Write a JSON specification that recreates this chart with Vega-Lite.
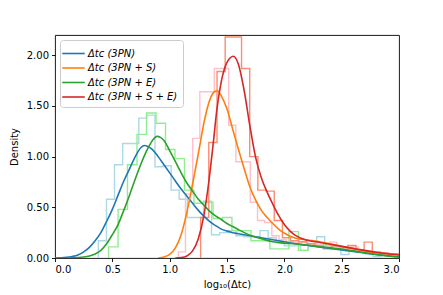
{
  "$schema": "https://vega.github.io/schema/vega-lite/v6.json",
  "width": 344,
  "height": 223,
  "autosize": {"type": "none"},
  "padding": {"left": 55, "top": 35, "right": 44, "bottom": 37},
  "background": "white",
  "config": {
    "font": "DejaVu Sans",
    "view": {"stroke": "black", "strokeWidth": 0.9},
    "axis": {
      "domain": false,
      "grid": false,
      "ticks": true,
      "tickColor": "black",
      "tickSize": 3.5,
      "tickWidth": 0.9,
      "labelColor": "black",
      "labelFontSize": 10,
      "labelPadding": 3,
      "titleColor": "black",
      "titleFontSize": 10,
      "titleFontWeight": "normal"
    },
    "legend": {
      "orient": "none",
      "legendX": 5,
      "legendY": 5,
      "fillColor": "rgba(255,255,255,0.85)",
      "strokeColor": "#cccccc",
      "cornerRadius": 3,
      "padding": 5,
      "symbolType": "M-1.5,0H1.5",
      "symbolSize": 225,
      "symbolStrokeWidth": 1.6,
      "labelFontSize": 10,
      "labelFontStyle": "italic",
      "labelColor": "black",
      "labelOffset": 6,
      "rowPadding": 0.5,
      "title": null
    }
  },
  "datasets": {
    "hist": [
      {"s":"Δtc (3PN)","i":0,"x":0.378,"y":0},
      {"s":"Δtc (3PN)","i":1,"x":0.378,"y":0.17},
      {"s":"Δtc (3PN)","i":2,"x":0.449,"y":0.58},
      {"s":"Δtc (3PN)","i":3,"x":0.519,"y":0.92},
      {"s":"Δtc (3PN)","i":4,"x":0.590,"y":1.13},
      {"s":"Δtc (3PN)","i":5,"x":0.660,"y":1.13},
      {"s":"Δtc (3PN)","i":6,"x":0.731,"y":1.38},
      {"s":"Δtc (3PN)","i":7,"x":0.801,"y":1.41},
      {"s":"Δtc (3PN)","i":8,"x":0.872,"y":0.90},
      {"s":"Δtc (3PN)","i":9,"x":0.942,"y":0.91},
      {"s":"Δtc (3PN)","i":10,"x":1.013,"y":0.67},
      {"s":"Δtc (3PN)","i":11,"x":1.083,"y":0.58},
      {"s":"Δtc (3PN)","i":12,"x":1.154,"y":0.40},
      {"s":"Δtc (3PN)","i":13,"x":1.224,"y":0.40},
      {"s":"Δtc (3PN)","i":14,"x":1.295,"y":0.56},
      {"s":"Δtc (3PN)","i":15,"x":1.365,"y":0.23},
      {"s":"Δtc (3PN)","i":16,"x":1.436,"y":0.25},
      {"s":"Δtc (3PN)","i":17,"x":1.506,"y":0.27},
      {"s":"Δtc (3PN)","i":18,"x":1.577,"y":0.22},
      {"s":"Δtc (3PN)","i":19,"x":1.647,"y":0.21},
      {"s":"Δtc (3PN)","i":20,"x":1.718,"y":0.21},
      {"s":"Δtc (3PN)","i":21,"x":1.788,"y":0.27},
      {"s":"Δtc (3PN)","i":22,"x":1.859,"y":0.20},
      {"s":"Δtc (3PN)","i":23,"x":1.929,"y":0.15},
      {"s":"Δtc (3PN)","i":24,"x":2.000,"y":0.12},
      {"s":"Δtc (3PN)","i":25,"x":2.070,"y":0.12},
      {"s":"Δtc (3PN)","i":26,"x":2.141,"y":0.075},
      {"s":"Δtc (3PN)","i":27,"x":2.211,"y":0.12},
      {"s":"Δtc (3PN)","i":28,"x":2.282,"y":0.21},
      {"s":"Δtc (3PN)","i":29,"x":2.352,"y":0.12},
      {"s":"Δtc (3PN)","i":30,"x":2.423,"y":0.09},
      {"s":"Δtc (3PN)","i":31,"x":2.493,"y":0.035},
      {"s":"Δtc (3PN)","i":32,"x":2.564,"y":0.07},
      {"s":"Δtc (3PN)","i":33,"x":2.634,"y":0.06},
      {"s":"Δtc (3PN)","i":34,"x":2.705,"y":0.04},
      {"s":"Δtc (3PN)","i":35,"x":2.775,"y":0.015},
      {"s":"Δtc (3PN)","i":36,"x":2.846,"y":0.03},
      {"s":"Δtc (3PN)","i":37,"x":2.916,"y":0.02},
      {"s":"Δtc (3PN)","i":38,"x":2.987,"y":0.02},
      {"s":"Δtc (3PN)","i":39,"x":3.057,"y":0},

      {"s":"Δtc (3PN + E)","i":0,"x":0.467,"y":0},
      {"s":"Δtc (3PN + E)","i":1,"x":0.467,"y":0.11},
      {"s":"Δtc (3PN + E)","i":2,"x":0.550,"y":0.48},
      {"s":"Δtc (3PN + E)","i":3,"x":0.632,"y":0.92},
      {"s":"Δtc (3PN + E)","i":4,"x":0.715,"y":1.22},
      {"s":"Δtc (3PN + E)","i":5,"x":0.798,"y":1.43},
      {"s":"Δtc (3PN + E)","i":6,"x":0.881,"y":1.33},
      {"s":"Δtc (3PN + E)","i":7,"x":0.964,"y":1.07},
      {"s":"Δtc (3PN + E)","i":8,"x":1.046,"y":0.98},
      {"s":"Δtc (3PN + E)","i":9,"x":1.129,"y":0.67},
      {"s":"Δtc (3PN + E)","i":10,"x":1.212,"y":0.54},
      {"s":"Δtc (3PN + E)","i":11,"x":1.295,"y":0.55},
      {"s":"Δtc (3PN + E)","i":12,"x":1.378,"y":0.39},
      {"s":"Δtc (3PN + E)","i":13,"x":1.460,"y":0.40},
      {"s":"Δtc (3PN + E)","i":14,"x":1.543,"y":0.27},
      {"s":"Δtc (3PN + E)","i":15,"x":1.626,"y":0.27},
      {"s":"Δtc (3PN + E)","i":16,"x":1.709,"y":0.17},
      {"s":"Δtc (3PN + E)","i":17,"x":1.792,"y":0.17},
      {"s":"Δtc (3PN + E)","i":18,"x":1.874,"y":0.09},
      {"s":"Δtc (3PN + E)","i":19,"x":1.957,"y":0.09},
      {"s":"Δtc (3PN + E)","i":20,"x":2.040,"y":0.26},
      {"s":"Δtc (3PN + E)","i":21,"x":2.123,"y":0.075},
      {"s":"Δtc (3PN + E)","i":22,"x":2.206,"y":0.13},
      {"s":"Δtc (3PN + E)","i":23,"x":2.288,"y":0.13},
      {"s":"Δtc (3PN + E)","i":24,"x":2.371,"y":0.11},
      {"s":"Δtc (3PN + E)","i":25,"x":2.454,"y":0.10},
      {"s":"Δtc (3PN + E)","i":26,"x":2.537,"y":0.07},
      {"s":"Δtc (3PN + E)","i":27,"x":2.620,"y":0.06},
      {"s":"Δtc (3PN + E)","i":28,"x":2.702,"y":0.05},
      {"s":"Δtc (3PN + E)","i":29,"x":2.785,"y":0.04},
      {"s":"Δtc (3PN + E)","i":30,"x":2.868,"y":0.03},
      {"s":"Δtc (3PN + E)","i":31,"x":2.951,"y":0.02},
      {"s":"Δtc (3PN + E)","i":32,"x":3.034,"y":0},

      {"s":"Δtc (3PN + S)","i":0,"x":1.075,"y":0},
      {"s":"Δtc (3PN + S)","i":1,"x":1.075,"y":0.06},
      {"s":"Δtc (3PN + S)","i":2,"x":1.138,"y":0.63},
      {"s":"Δtc (3PN + S)","i":3,"x":1.201,"y":1.18},
      {"s":"Δtc (3PN + S)","i":4,"x":1.263,"y":1.64},
      {"s":"Δtc (3PN + S)","i":5,"x":1.326,"y":1.64},
      {"s":"Δtc (3PN + S)","i":6,"x":1.389,"y":1.87},
      {"s":"Δtc (3PN + S)","i":7,"x":1.452,"y":1.87},
      {"s":"Δtc (3PN + S)","i":8,"x":1.515,"y":1.31},
      {"s":"Δtc (3PN + S)","i":9,"x":1.577,"y":0.95},
      {"s":"Δtc (3PN + S)","i":10,"x":1.640,"y":0.95},
      {"s":"Δtc (3PN + S)","i":11,"x":1.703,"y":0.55},
      {"s":"Δtc (3PN + S)","i":12,"x":1.766,"y":0.37},
      {"s":"Δtc (3PN + S)","i":13,"x":1.829,"y":0.35},
      {"s":"Δtc (3PN + S)","i":14,"x":1.891,"y":0.22},
      {"s":"Δtc (3PN + S)","i":15,"x":1.954,"y":0.18},
      {"s":"Δtc (3PN + S)","i":16,"x":2.017,"y":0.16},
      {"s":"Δtc (3PN + S)","i":17,"x":2.080,"y":0.15},
      {"s":"Δtc (3PN + S)","i":18,"x":2.143,"y":0.15},
      {"s":"Δtc (3PN + S)","i":19,"x":2.205,"y":0.14},
      {"s":"Δtc (3PN + S)","i":20,"x":2.268,"y":0.13},
      {"s":"Δtc (3PN + S)","i":21,"x":2.331,"y":0.12},
      {"s":"Δtc (3PN + S)","i":22,"x":2.394,"y":0.157},
      {"s":"Δtc (3PN + S)","i":23,"x":2.457,"y":0.10},
      {"s":"Δtc (3PN + S)","i":24,"x":2.519,"y":0.09},
      {"s":"Δtc (3PN + S)","i":25,"x":2.582,"y":0.11},
      {"s":"Δtc (3PN + S)","i":26,"x":2.645,"y":0.07},
      {"s":"Δtc (3PN + S)","i":27,"x":2.708,"y":0.06},
      {"s":"Δtc (3PN + S)","i":28,"x":2.771,"y":0.05},
      {"s":"Δtc (3PN + S)","i":29,"x":2.833,"y":0.04},
      {"s":"Δtc (3PN + S)","i":30,"x":2.896,"y":0.03},
      {"s":"Δtc (3PN + S)","i":31,"x":2.959,"y":0.03},
      {"s":"Δtc (3PN + S)","i":32,"x":3.022,"y":0},

      {"s":"Δtc (3PN + S + E)","i":0,"x":1.270,"y":0},
      {"s":"Δtc (3PN + S + E)","i":1,"x":1.270,"y":0.40},
      {"s":"Δtc (3PN + S + E)","i":2,"x":1.341,"y":1.14},
      {"s":"Δtc (3PN + S + E)","i":3,"x":1.413,"y":1.84},
      {"s":"Δtc (3PN + S + E)","i":4,"x":1.484,"y":2.18},
      {"s":"Δtc (3PN + S + E)","i":5,"x":1.555,"y":2.18},
      {"s":"Δtc (3PN + S + E)","i":6,"x":1.627,"y":1.87},
      {"s":"Δtc (3PN + S + E)","i":7,"x":1.698,"y":1.0},
      {"s":"Δtc (3PN + S + E)","i":8,"x":1.769,"y":0.67},
      {"s":"Δtc (3PN + S + E)","i":9,"x":1.840,"y":0.66},
      {"s":"Δtc (3PN + S + E)","i":10,"x":1.912,"y":0.37},
      {"s":"Δtc (3PN + S + E)","i":11,"x":1.983,"y":0.20},
      {"s":"Δtc (3PN + S + E)","i":12,"x":2.054,"y":0.17},
      {"s":"Δtc (3PN + S + E)","i":13,"x":2.126,"y":0.16},
      {"s":"Δtc (3PN + S + E)","i":14,"x":2.197,"y":0.14},
      {"s":"Δtc (3PN + S + E)","i":15,"x":2.268,"y":0.12},
      {"s":"Δtc (3PN + S + E)","i":16,"x":2.340,"y":0.09},
      {"s":"Δtc (3PN + S + E)","i":17,"x":2.411,"y":0.12},
      {"s":"Δtc (3PN + S + E)","i":18,"x":2.482,"y":0.11},
      {"s":"Δtc (3PN + S + E)","i":19,"x":2.553,"y":0.124},
      {"s":"Δtc (3PN + S + E)","i":20,"x":2.625,"y":0.08},
      {"s":"Δtc (3PN + S + E)","i":21,"x":2.696,"y":0.157},
      {"s":"Δtc (3PN + S + E)","i":22,"x":2.767,"y":0.06},
      {"s":"Δtc (3PN + S + E)","i":23,"x":2.839,"y":0.05},
      {"s":"Δtc (3PN + S + E)","i":24,"x":2.910,"y":0.04},
      {"s":"Δtc (3PN + S + E)","i":25,"x":2.981,"y":0.04},
      {"s":"Δtc (3PN + S + E)","i":26,"x":3.052,"y":0}
    ],
    "kde": [
      {"s":"Δtc (3PN)","x":0.0,"y":0.0},
      {"s":"Δtc (3PN)","x":0.05,"y":0.002},
      {"s":"Δtc (3PN)","x":0.10,"y":0.006},
      {"s":"Δtc (3PN)","x":0.15,"y":0.015},
      {"s":"Δtc (3PN)","x":0.20,"y":0.03},
      {"s":"Δtc (3PN)","x":0.25,"y":0.06},
      {"s":"Δtc (3PN)","x":0.30,"y":0.105},
      {"s":"Δtc (3PN)","x":0.35,"y":0.17},
      {"s":"Δtc (3PN)","x":0.40,"y":0.25},
      {"s":"Δtc (3PN)","x":0.45,"y":0.36},
      {"s":"Δtc (3PN)","x":0.50,"y":0.48},
      {"s":"Δtc (3PN)","x":0.55,"y":0.62},
      {"s":"Δtc (3PN)","x":0.60,"y":0.76},
      {"s":"Δtc (3PN)","x":0.65,"y":0.88},
      {"s":"Δtc (3PN)","x":0.70,"y":1.00},
      {"s":"Δtc (3PN)","x":0.75,"y":1.09},
      {"s":"Δtc (3PN)","x":0.78,"y":1.11},
      {"s":"Δtc (3PN)","x":0.81,"y":1.10},
      {"s":"Δtc (3PN)","x":0.85,"y":1.07},
      {"s":"Δtc (3PN)","x":0.90,"y":1.00},
      {"s":"Δtc (3PN)","x":0.95,"y":0.92},
      {"s":"Δtc (3PN)","x":1.00,"y":0.84},
      {"s":"Δtc (3PN)","x":1.05,"y":0.76},
      {"s":"Δtc (3PN)","x":1.10,"y":0.68},
      {"s":"Δtc (3PN)","x":1.15,"y":0.61},
      {"s":"Δtc (3PN)","x":1.20,"y":0.54},
      {"s":"Δtc (3PN)","x":1.25,"y":0.47},
      {"s":"Δtc (3PN)","x":1.30,"y":0.41},
      {"s":"Δtc (3PN)","x":1.35,"y":0.36},
      {"s":"Δtc (3PN)","x":1.40,"y":0.32},
      {"s":"Δtc (3PN)","x":1.45,"y":0.285},
      {"s":"Δtc (3PN)","x":1.50,"y":0.265},
      {"s":"Δtc (3PN)","x":1.55,"y":0.25},
      {"s":"Δtc (3PN)","x":1.60,"y":0.24},
      {"s":"Δtc (3PN)","x":1.70,"y":0.22},
      {"s":"Δtc (3PN)","x":1.80,"y":0.20},
      {"s":"Δtc (3PN)","x":1.90,"y":0.18},
      {"s":"Δtc (3PN)","x":2.00,"y":0.16},
      {"s":"Δtc (3PN)","x":2.10,"y":0.14},
      {"s":"Δtc (3PN)","x":2.20,"y":0.125},
      {"s":"Δtc (3PN)","x":2.30,"y":0.11},
      {"s":"Δtc (3PN)","x":2.40,"y":0.095},
      {"s":"Δtc (3PN)","x":2.50,"y":0.08},
      {"s":"Δtc (3PN)","x":2.60,"y":0.065},
      {"s":"Δtc (3PN)","x":2.70,"y":0.05},
      {"s":"Δtc (3PN)","x":2.80,"y":0.035},
      {"s":"Δtc (3PN)","x":2.90,"y":0.022},
      {"s":"Δtc (3PN)","x":3.00,"y":0.012},

      {"s":"Δtc (3PN + S)","x":0.90,"y":0.0},
      {"s":"Δtc (3PN + S)","x":0.95,"y":0.01},
      {"s":"Δtc (3PN + S)","x":1.00,"y":0.035},
      {"s":"Δtc (3PN + S)","x":1.05,"y":0.10},
      {"s":"Δtc (3PN + S)","x":1.10,"y":0.23},
      {"s":"Δtc (3PN + S)","x":1.15,"y":0.45},
      {"s":"Δtc (3PN + S)","x":1.20,"y":0.73},
      {"s":"Δtc (3PN + S)","x":1.25,"y":1.03},
      {"s":"Δtc (3PN + S)","x":1.30,"y":1.34},
      {"s":"Δtc (3PN + S)","x":1.35,"y":1.56},
      {"s":"Δtc (3PN + S)","x":1.39,"y":1.64},
      {"s":"Δtc (3PN + S)","x":1.415,"y":1.65},
      {"s":"Δtc (3PN + S)","x":1.45,"y":1.60},
      {"s":"Δtc (3PN + S)","x":1.50,"y":1.47},
      {"s":"Δtc (3PN + S)","x":1.55,"y":1.27},
      {"s":"Δtc (3PN + S)","x":1.60,"y":1.07},
      {"s":"Δtc (3PN + S)","x":1.65,"y":0.88},
      {"s":"Δtc (3PN + S)","x":1.70,"y":0.70},
      {"s":"Δtc (3PN + S)","x":1.75,"y":0.57},
      {"s":"Δtc (3PN + S)","x":1.80,"y":0.47},
      {"s":"Δtc (3PN + S)","x":1.85,"y":0.40},
      {"s":"Δtc (3PN + S)","x":1.90,"y":0.34},
      {"s":"Δtc (3PN + S)","x":1.95,"y":0.285},
      {"s":"Δtc (3PN + S)","x":2.00,"y":0.245},
      {"s":"Δtc (3PN + S)","x":2.05,"y":0.215},
      {"s":"Δtc (3PN + S)","x":2.10,"y":0.195},
      {"s":"Δtc (3PN + S)","x":2.20,"y":0.178},
      {"s":"Δtc (3PN + S)","x":2.30,"y":0.162},
      {"s":"Δtc (3PN + S)","x":2.40,"y":0.14},
      {"s":"Δtc (3PN + S)","x":2.50,"y":0.115},
      {"s":"Δtc (3PN + S)","x":2.60,"y":0.09},
      {"s":"Δtc (3PN + S)","x":2.70,"y":0.068},
      {"s":"Δtc (3PN + S)","x":2.80,"y":0.052},
      {"s":"Δtc (3PN + S)","x":2.90,"y":0.042},
      {"s":"Δtc (3PN + S)","x":3.00,"y":0.035},

      {"s":"Δtc (3PN + E)","x":0.10,"y":0.0},
      {"s":"Δtc (3PN + E)","x":0.15,"y":0.002},
      {"s":"Δtc (3PN + E)","x":0.20,"y":0.005},
      {"s":"Δtc (3PN + E)","x":0.25,"y":0.01},
      {"s":"Δtc (3PN + E)","x":0.30,"y":0.02},
      {"s":"Δtc (3PN + E)","x":0.35,"y":0.04},
      {"s":"Δtc (3PN + E)","x":0.40,"y":0.075},
      {"s":"Δtc (3PN + E)","x":0.45,"y":0.14},
      {"s":"Δtc (3PN + E)","x":0.50,"y":0.23},
      {"s":"Δtc (3PN + E)","x":0.55,"y":0.33},
      {"s":"Δtc (3PN + E)","x":0.60,"y":0.47},
      {"s":"Δtc (3PN + E)","x":0.65,"y":0.62},
      {"s":"Δtc (3PN + E)","x":0.70,"y":0.78},
      {"s":"Δtc (3PN + E)","x":0.75,"y":0.93},
      {"s":"Δtc (3PN + E)","x":0.80,"y":1.06},
      {"s":"Δtc (3PN + E)","x":0.85,"y":1.16},
      {"s":"Δtc (3PN + E)","x":0.89,"y":1.20},
      {"s":"Δtc (3PN + E)","x":0.92,"y":1.19},
      {"s":"Δtc (3PN + E)","x":0.95,"y":1.16},
      {"s":"Δtc (3PN + E)","x":1.00,"y":1.06},
      {"s":"Δtc (3PN + E)","x":1.05,"y":0.95},
      {"s":"Δtc (3PN + E)","x":1.10,"y":0.84},
      {"s":"Δtc (3PN + E)","x":1.15,"y":0.74},
      {"s":"Δtc (3PN + E)","x":1.20,"y":0.66},
      {"s":"Δtc (3PN + E)","x":1.25,"y":0.58},
      {"s":"Δtc (3PN + E)","x":1.30,"y":0.52},
      {"s":"Δtc (3PN + E)","x":1.35,"y":0.46},
      {"s":"Δtc (3PN + E)","x":1.40,"y":0.415},
      {"s":"Δtc (3PN + E)","x":1.45,"y":0.38},
      {"s":"Δtc (3PN + E)","x":1.50,"y":0.34},
      {"s":"Δtc (3PN + E)","x":1.55,"y":0.31},
      {"s":"Δtc (3PN + E)","x":1.60,"y":0.28},
      {"s":"Δtc (3PN + E)","x":1.70,"y":0.225},
      {"s":"Δtc (3PN + E)","x":1.80,"y":0.19},
      {"s":"Δtc (3PN + E)","x":1.90,"y":0.16},
      {"s":"Δtc (3PN + E)","x":2.00,"y":0.147},
      {"s":"Δtc (3PN + E)","x":2.10,"y":0.138},
      {"s":"Δtc (3PN + E)","x":2.20,"y":0.125},
      {"s":"Δtc (3PN + E)","x":2.30,"y":0.112},
      {"s":"Δtc (3PN + E)","x":2.40,"y":0.10},
      {"s":"Δtc (3PN + E)","x":2.50,"y":0.088},
      {"s":"Δtc (3PN + E)","x":2.60,"y":0.07},
      {"s":"Δtc (3PN + E)","x":2.70,"y":0.052},
      {"s":"Δtc (3PN + E)","x":2.80,"y":0.035},
      {"s":"Δtc (3PN + E)","x":2.90,"y":0.02},
      {"s":"Δtc (3PN + E)","x":3.00,"y":0.01},

      {"s":"Δtc (3PN + S + E)","x":1.05,"y":0.0},
      {"s":"Δtc (3PN + S + E)","x":1.10,"y":0.004},
      {"s":"Δtc (3PN + S + E)","x":1.15,"y":0.02},
      {"s":"Δtc (3PN + S + E)","x":1.20,"y":0.07},
      {"s":"Δtc (3PN + S + E)","x":1.25,"y":0.19},
      {"s":"Δtc (3PN + S + E)","x":1.30,"y":0.43},
      {"s":"Δtc (3PN + S + E)","x":1.34,"y":0.74},
      {"s":"Δtc (3PN + S + E)","x":1.38,"y":1.13},
      {"s":"Δtc (3PN + S + E)","x":1.41,"y":1.45},
      {"s":"Δtc (3PN + S + E)","x":1.45,"y":1.74},
      {"s":"Δtc (3PN + S + E)","x":1.50,"y":1.93},
      {"s":"Δtc (3PN + S + E)","x":1.555,"y":1.99},
      {"s":"Δtc (3PN + S + E)","x":1.60,"y":1.91},
      {"s":"Δtc (3PN + S + E)","x":1.65,"y":1.65},
      {"s":"Δtc (3PN + S + E)","x":1.70,"y":1.30},
      {"s":"Δtc (3PN + S + E)","x":1.75,"y":0.99},
      {"s":"Δtc (3PN + S + E)","x":1.80,"y":0.79},
      {"s":"Δtc (3PN + S + E)","x":1.85,"y":0.65},
      {"s":"Δtc (3PN + S + E)","x":1.90,"y":0.53},
      {"s":"Δtc (3PN + S + E)","x":1.95,"y":0.42},
      {"s":"Δtc (3PN + S + E)","x":2.00,"y":0.33},
      {"s":"Δtc (3PN + S + E)","x":2.05,"y":0.265},
      {"s":"Δtc (3PN + S + E)","x":2.10,"y":0.22},
      {"s":"Δtc (3PN + S + E)","x":2.20,"y":0.175},
      {"s":"Δtc (3PN + S + E)","x":2.30,"y":0.155},
      {"s":"Δtc (3PN + S + E)","x":2.40,"y":0.135},
      {"s":"Δtc (3PN + S + E)","x":2.50,"y":0.115},
      {"s":"Δtc (3PN + S + E)","x":2.60,"y":0.095},
      {"s":"Δtc (3PN + S + E)","x":2.70,"y":0.075},
      {"s":"Δtc (3PN + S + E)","x":2.80,"y":0.057},
      {"s":"Δtc (3PN + S + E)","x":2.90,"y":0.042},
      {"s":"Δtc (3PN + S + E)","x":3.00,"y":0.03}
    ]
  },
  "layer": [
    {
      "data": {"name": "hist"},
      "mark": {"type": "line", "interpolate": "step-after", "strokeWidth": 1.4, "clip": true},
      "encoding": {
        "x": {"field": "x", "type": "quantitative", "scale": {"domain": [0, 3], "nice": false, "zero": false},
              "axis": {"values": [0, 0.5, 1, 1.5, 2, 2.5, 3], "format": ".1f", "title": "log₁₀(Δtc)", "titlePadding": 5}},
        "y": {"field": "y", "type": "quantitative", "scale": {"domain": [0, 2.2], "nice": false},
              "axis": {"values": [0, 0.25, 0.5, 0.75, 1, 1.25, 1.5, 1.75, 2], "format": ".2f", "title": "Density", "titlePadding": 7}},
        "color": {"field": "s", "type": "nominal",
                  "scale": {"domain": ["Δtc (3PN)", "Δtc (3PN + S)", "Δtc (3PN + E)", "Δtc (3PN + S + E)"],
                            "range": ["#add8e6", "#ffc0cb", "#90ee90", "#fa8e73"]},
                  "legend": null},
        "detail": {"field": "s", "type": "nominal"},
        "order": {"field": "i", "type": "quantitative"}
      }
    },
    {
      "data": {"name": "kde"},
      "mark": {"type": "line", "interpolate": "monotone", "strokeWidth": 1.6, "clip": true},
      "encoding": {
        "x": {"field": "x", "type": "quantitative"},
        "y": {"field": "y", "type": "quantitative"},
        "color": {"field": "s", "type": "nominal",
                  "scale": {"domain": ["Δtc (3PN)", "Δtc (3PN + S)", "Δtc (3PN + E)", "Δtc (3PN + S + E)"],
                            "range": ["#1f77b4", "#ff7f0e", "#2ca02c", "#d62728"]},
                  "legend": {"symbolType": "M-1.5,0H1.5"}},
        "order": {"field": "x", "type": "quantitative"}
      }
    }
  ],
  "resolve": {"scale": {"color": "independent"}}
}
